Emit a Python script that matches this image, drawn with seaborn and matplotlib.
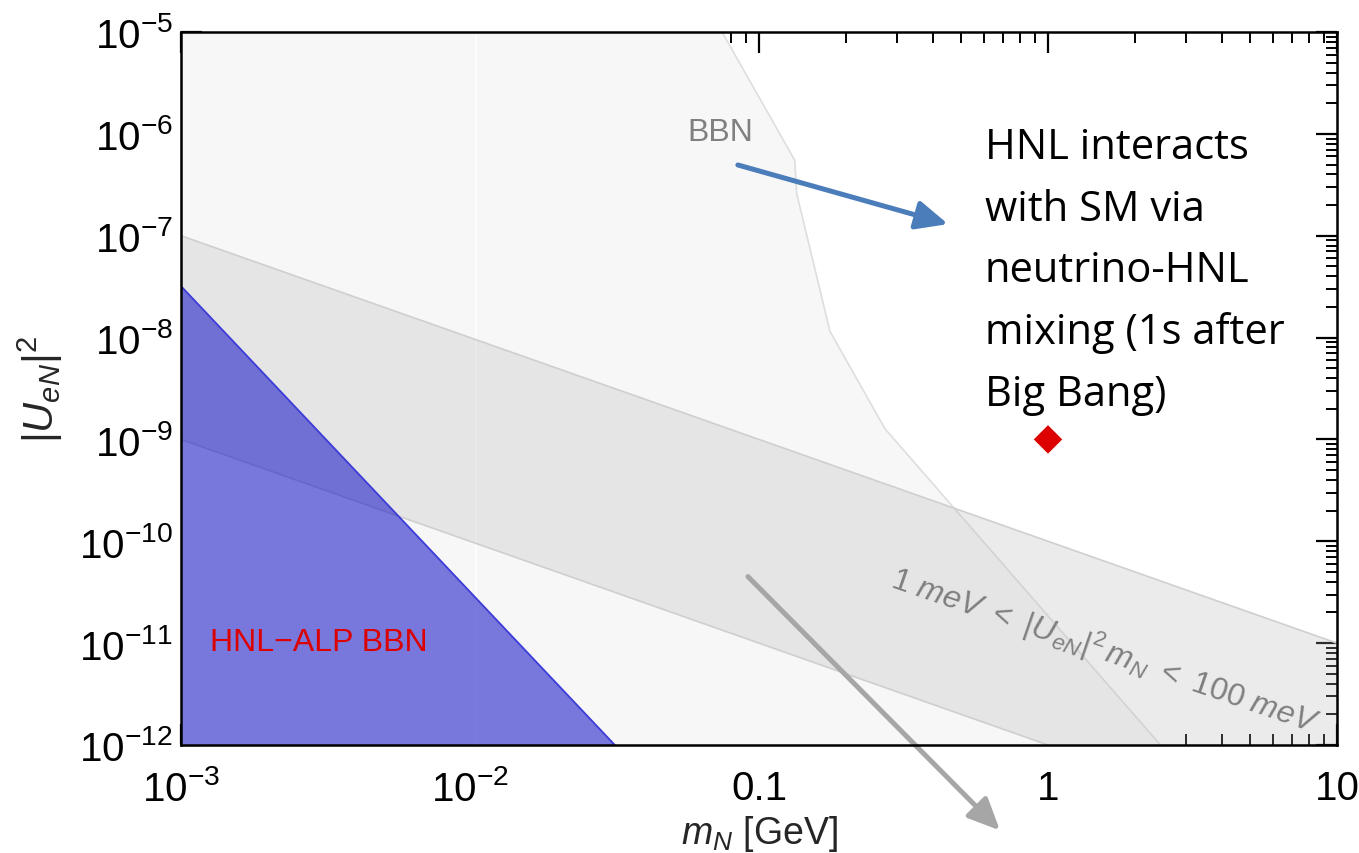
import numpy as np
import matplotlib
matplotlib.use("Agg")
import matplotlib.pyplot as plt
import seaborn as sns

# Data
# BBN exclusion boundary (everything to the left is excluded)
bbn_m = [0.0745, 0.133, 0.135, 0.176, 0.273, 2.45]
bbn_u = [1e-5, 5.5e-7, 2.6e-7, 1.15e-8, 1.27e-9, 1e-12]

# seesaw band: 1 meV < |U|^2 m_N < 100 meV
band_m = [1e-3, 10.0]
band_lo = [1e-9, 1e-13]
band_hi = [1e-7, 1e-11]

# HNL-ALP BBN region
alp_m = [1e-3, 0.0317]
alp_u = [3.2e-8, 1e-12]

# benchmark point
pt_m = [1.0]
pt_u = [1e-9]

xtick_vals = [1e-3, 1e-2, 0.1, 1, 10]
xtick_labels = [r"$10^{-3}$", r"$10^{-2}$", "0.1", "1", "10"]
ytick_vals = [1e-12, 1e-11, 1e-10, 1e-9, 1e-8, 1e-7, 1e-6, 1e-5]

sns.set_theme(style="ticks")
plt.rcParams["font.family"] = ["Liberation Sans", "DejaVu Sans"]
plt.rcParams["mathtext.fontset"] = "custom"
plt.rcParams["mathtext.rm"] = "Liberation Sans"
plt.rcParams["mathtext.it"] = "Liberation Sans:italic"
plt.rcParams["mathtext.bf"] = "Liberation Sans:bold"

fig = plt.figure(figsize=(13.59, 8.54), dpi=100)
ax = fig.add_axes([181 / 1359, 108 / 854, 1156 / 1359, 713 / 854])
ax.set_xscale("log")
ax.set_yscale("log")
ax.set_xlim(1e-3, 10)
ax.set_ylim(1e-12, 1e-5)

# BBN region
ax.fill_betweenx(bbn_u, 1e-3, bbn_m, color="#f7f7f7", lw=0, zorder=1)
sns.lineplot(x=bbn_m, y=bbn_u, sort=False, color="#dedede", lw=1.2, ax=ax, zorder=2)
ax.axvline(0.0105, color="white", lw=1.2, alpha=0.8, zorder=2)

# band
ax.fill_between(band_m, band_lo, band_hi, color="#b3b3b3", alpha=0.25, lw=0, zorder=3)
sns.lineplot(x=band_m, y=band_lo, color="#cfcfcf", lw=1.2, ax=ax, zorder=3)
sns.lineplot(x=band_m, y=band_hi, color="#cfcfcf", lw=1.2, ax=ax, zorder=3)

# HNL-ALP BBN
ax.fill_between(alp_m, 1e-13, alp_u, color="#1414c8", alpha=0.56, lw=0, zorder=4)
sns.lineplot(x=alp_m, y=alp_u, color="#3c3cd8", lw=1.3, ax=ax, zorder=5)

sns.scatterplot(x=pt_m, y=pt_u, marker="D", s=210, color="#dd0000",
                edgecolor="none", ax=ax, zorder=6)

# texts
ax.text(0.0733, 1.05e-6, "BBN", color="#808080", fontsize=23,
        ha="center", va="center", zorder=7)
ax.text(1.26e-3, 1.02e-11, "HNL\u2212ALP BBN", color="#dd0000", fontsize=23,
        ha="left", va="center", zorder=7)
ax.text(1.57, 8.6e-12,
        r"$\mathit{1\ meV}\ <\ |\mathit{U}_{\mathit{eN}}|^{2}\,\mathit{m}_{\mathit{N}}\ <\ \mathit{100\ meV}$",
        color="#808080", fontsize=23, rotation=-19, rotation_mode="anchor",
        ha="center", va="center", zorder=7)
ax.text(0.605, 1.2e-6,
        "HNL interacts\nwith SM via\nneutrino-HNL\nmixing (1s after\nBig Bang)",
        family=["Open Sans", "DejaVu Sans"], fontsize=30, linespacing=1.62,
        color="black", ha="left", va="top", zorder=7)

# arrows
ax.annotate("", xy=(0.451, 1.3e-7), xytext=(0.0845, 4.95e-7),
            arrowprops=dict(arrowstyle="-|>,head_length=0.55,head_width=0.25",
                            mutation_scale=35, lw=3.6, color="#4a7dba",
                            shrinkA=0, shrinkB=0),
            annotation_clip=False, zorder=8)
ax.annotate("", xy=(0.682, 1.45e-13), xytext=(0.0916, 4.5e-11),
            arrowprops=dict(arrowstyle="-|>,head_length=0.55,head_width=0.25",
                            mutation_scale=35, lw=3.6, color="#a6a6a6",
                            shrinkA=0, shrinkB=0),
            annotation_clip=False, zorder=8)

# axes styling
ax.set_xticks(xtick_vals)
ax.set_xticklabels(xtick_labels)
ax.set_yticks(ytick_vals)
ax.tick_params(which="both", direction="in", top=True, right=True,
               labelsize=29, colors="black")
ax.tick_params(axis="x", which="both", pad=17)
ax.tick_params(axis="y", which="both", pad=6)
ax.tick_params(which="major", length=15, width=1.6)
ax.tick_params(which="minor", length=8, width=1.4)
for s in ax.spines.values():
    s.set_linewidth(1.8)
    s.set_color("black")
    s.set_zorder(10)
ax.set_xlabel(r"$m_N$ [GeV]", fontsize=27, labelpad=4)
ax.set_ylabel(r"$|U_{eN}|^2$", fontsize=30, labelpad=10)

fig.savefig("out.png", dpi=100)
